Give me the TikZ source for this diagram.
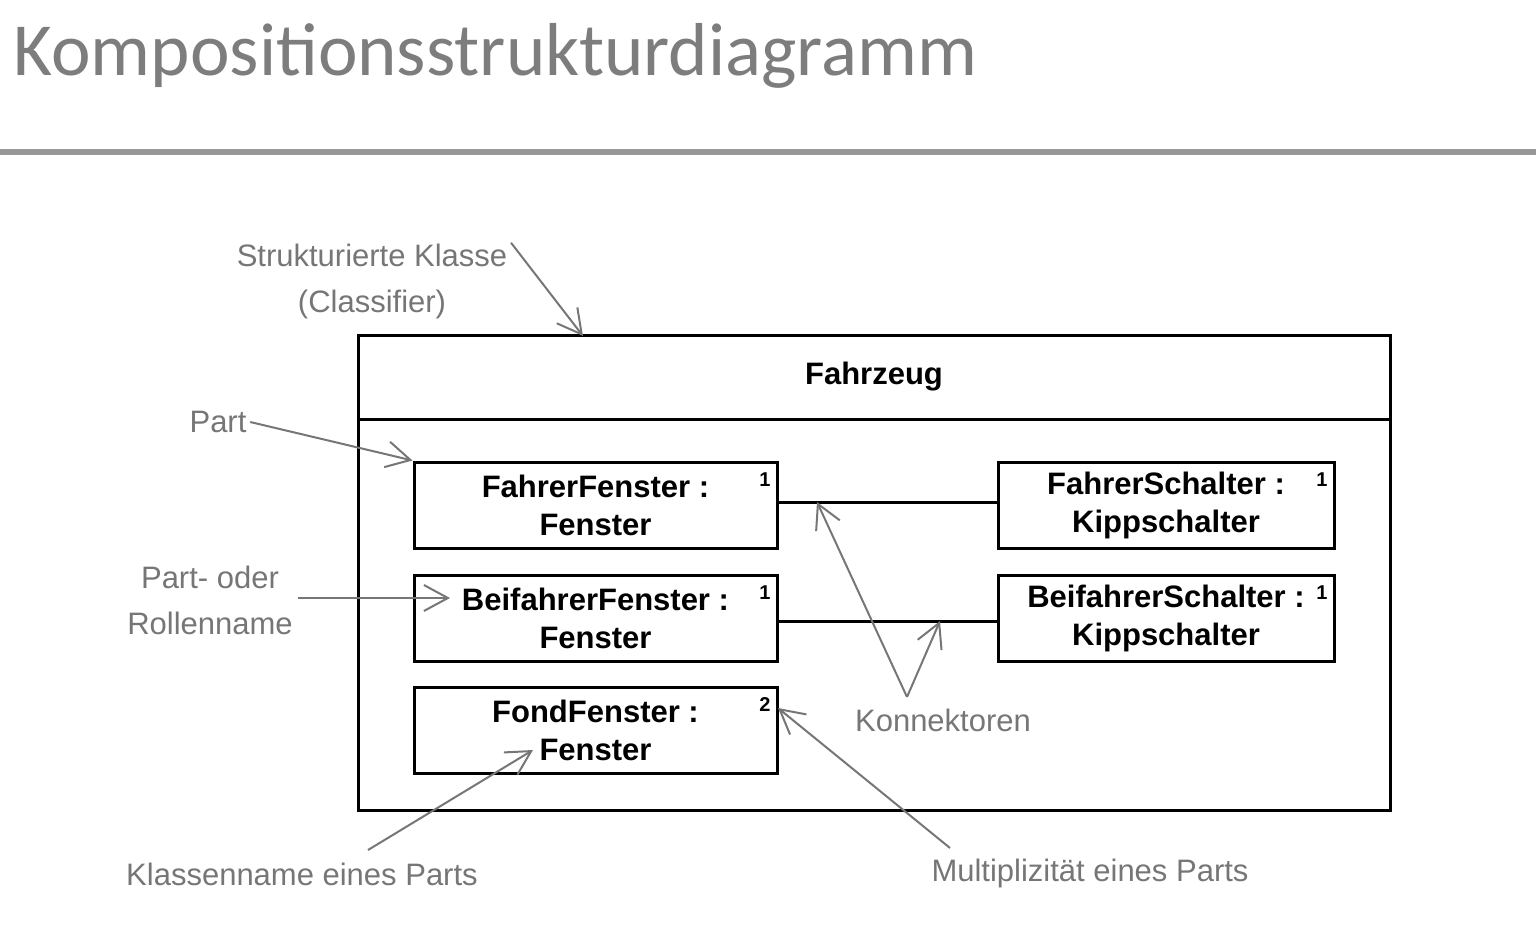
\documentclass[tikz,border=0pt]{standalone}
\usepackage{fontspec}
\setmainfont{Liberation Sans}
\newfontfamily\titlefont{Carlito}
\usetikzlibrary{arrows.meta}
\definecolor{notegray}{RGB}{118,118,118}
\definecolor{titlegray}{RGB}{125,125,125}

\begin{document}
\begin{tikzpicture}[x=0.5pt, y=-0.5pt, thick]
        \tikzstyle{part} = [draw, line width = 1.5pt, minimum width = 181.5pt, minimum height = 43pt, inner sep = 1pt, align = center, font = \fontsize{15.5}{19}\selectfont\bfseries]
        \tikzstyle{mult} = [inner sep = 0pt, font = \fontsize{10}{10}\selectfont\bfseries]
        \tikzstyle{note} = [text = notegray, align = center, inner sep = 0pt, font = \fontsize{15.5}{23}\selectfont]
        \tikzstyle{pointer} = [draw = notegray, line width = 1pt, -{Straight Barb[length = 12pt, width = 13pt, line width = 1pt]}]
        \useasboundingbox (0, 0) rectangle (1536, 932);
        % title
        \node[anchor = base west, inner sep = 0pt, text = titlegray, font = \titlefont\fontsize{37.5}{40}\selectfont] (T) at (13, 75) {Kompositionsstrukturdiagramm};
        \draw[line width = 3pt, color = titlegray!80] (0, 152) -- (1536, 152);
        % classifier
        \node[draw, line width = 1.5pt, minimum width = 516pt, minimum height = 237.5pt] (K) at (874, 572.5) {};
        \node[font = \fontsize{15.5}{19}\selectfont\bfseries] (K-name) at (874, 377) {Fahrzeug};
        \draw[line width = 1.5pt] (K.west |- 0, 419) -- (K.east |- 0, 419);
        % parts
        \node[part] (F-1) at (595.5, 505) {FahrerFenster :\\Fenster};
        \node[part] (F-2) at (595.5, 618) {BeifahrerFenster :\\Fenster};
        \node[part] (F-3) at (595.5, 730.5) {FondFenster :\\Fenster};
        \node[part, minimum width = 168pt] (S-1) at (1166, 505) {FahrerSchalter :\\Kippschalter};
        \node[part, minimum width = 168pt] (S-2) at (1166, 618) {BeifahrerSchalter :\\Kippschalter};
        \node[mult] (M-1) at (765, 480) {1};
        \node[mult] (M-2) at (765, 593) {1};
        \node[mult] (M-3) at (765, 705) {2};
        \node[mult] (M-4) at (1322, 480) {1};
        \node[mult] (M-5) at (1322, 593) {1};
        % connectors
        \draw[line width = 1.5pt] (F-1.east |- 0, 502) -- (S-1.west |- 0, 502);
        \draw[line width = 1.5pt] (F-2.east |- 0, 621) -- (S-2.west |- 0, 621);
        % annotations
        \node[note] (N-1) at (372, 281) {Strukturierte Klasse\\(Classifier)};
        \node[note] (N-2) at (218, 422) {Part};
        \node[note] (N-3) at (210, 600) {Part- oder\\Rollenname};
        \node[note] (N-4) at (943, 720) {Konnektoren};
        \node[note] (N-5) at (302, 874) {Klassenname eines Parts};
        \node[note] (N-6) at (1090, 873) {Multiplizit\"at eines Parts};
        \coordinate (k-1) at (907, 697);
        \coordinate (c-1) at (817, 502);
        \coordinate (c-2) at (940, 621);
        \coordinate (m-3) at (778, 708);
        \draw[pointer] (N-1.north east) ++(3, 0) -- (583, 336);
        \draw[pointer] (N-2.east) ++(3, 0) -- (F-1.north west);
        \draw[pointer] (N-3.east) ++(4, -2) -- (450, 598);
        \draw[pointer] (k-1) -- (c-1);
        \draw[pointer] (k-1) -- (c-2);
        \draw[pointer] (368, 850) -- (533, 750);
        \draw[pointer] (950, 848) -- (m-3);
      \end{tikzpicture}
\end{document}
